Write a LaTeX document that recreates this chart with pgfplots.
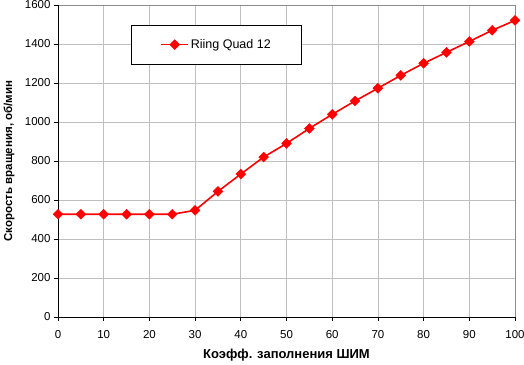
\documentclass[border=0pt]{standalone}
\usepackage{pgfplots}
\pgfplotsset{compat=1.18}
\usepackage{fontspec}
\setmainfont{Liberation Sans}
\begin{document}
\begin{tikzpicture}
\begin{axis}[
  at={(0,0)}, anchor=south west,
  scale only axis,
  width=457pt, height=312pt,
  xmin=0, xmax=100, ymin=0, ymax=1600,
  xtick={0,10,...,100}, ytick={0,200,...,1600},
  grid=major,
  major grid style={draw=black!25, line width=0.8pt},
  axis line style={draw=none},
  axis x line*=bottom, axis y line*=left,
  tick align=outside,
  major tick length=4pt,
  tick style={black, line width=0.8pt},
  tick label style={font=\fontsize{11.5}{13}\selectfont},
  xticklabel style={yshift=-6pt},
  /pgf/number format/assume math mode=true,
  /pgf/number format/1000 sep={},
  xlabel={\bfseries Коэфф. заполнения ШИМ},
  ylabel={\bfseries Скорость вращения, об/мин},
  xlabel style={font=\fontsize{13}{15}\selectfont, at={(axis description cs:0.5,0)}, anchor=center, yshift=-38pt},
  ylabel style={font=\fontsize{11.5}{13}\selectfont, at={(axis description cs:-0.1072,0.5)}, anchor=center},
  legend style={at={(0.16,0.936)}, anchor=north west, draw=black, line width=0.8pt,
    font=\fontsize{12.5}{14}\selectfont, inner xsep=29pt, inner ysep=12pt},
  legend image code/.code={\draw[mark repeat=2,mark phase=2,#1] plot coordinates {(0cm,0cm) (0.47cm,0cm) (0.94cm,0cm)};},
  legend cell align=left,
  clip=false,
]
\addplot[red, line width=1.6pt, mark=square*, mark size=3.5pt, mark options={fill=red, draw=red, line width=0.4pt, rotate=45}]
coordinates {
(0,527) (5,527) (10,527) (15,527) (20,527) (25,527) (30,547) (35,644) (40,733) (45,820) (50,890)
(55,967) (60,1039) (65,1108) (70,1173) (75,1239) (80,1301) (85,1357) (90,1413) (95,1470) (100,1521)
};
\addlegendentry{Riing Quad 12}
\draw[black!45, line width=0.8pt] (rel axis cs:0,1) -- (rel axis cs:1,1) -- (rel axis cs:1,0);
\draw[black, line width=0.8pt] (rel axis cs:1,0) -- (rel axis cs:0,0) -- (rel axis cs:0,1);
\end{axis}
\pgfresetboundingbox
\path[use as bounding box] (-58pt,-47pt) rectangle (466pt,317pt);
\end{tikzpicture}
\end{document}
